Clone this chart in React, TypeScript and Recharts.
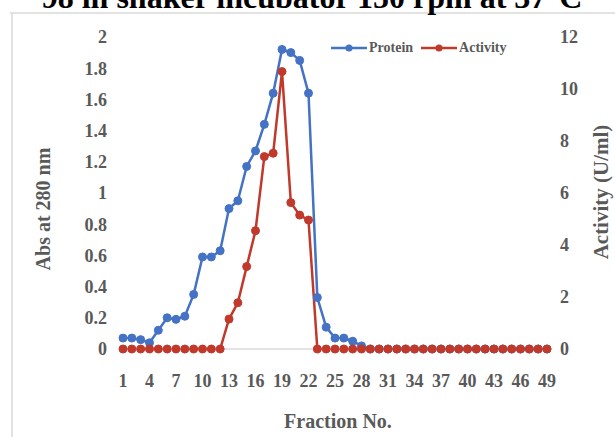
import { LineChart, Line, XAxis, YAxis } from "recharts";

const fractions = [
  1, 2, 3, 4, 5, 6, 7, 8, 9, 10, 11, 12, 13, 14, 15, 16, 17, 18, 19, 20, 21,
  22, 23, 24, 25, 26, 27, 28, 29, 30, 31, 32, 33, 34, 35, 36, 37, 38, 39, 40,
  41, 42, 43, 44, 45, 46, 47, 48, 49,
];

const protein = [
  0.07, 0.07, 0.06, 0.04, 0.12, 0.2, 0.19, 0.21, 0.35, 0.59, 0.59, 0.63, 0.9,
  0.95, 1.17, 1.27, 1.44, 1.64, 1.92, 1.9, 1.85, 1.64, 0.33, 0.14, 0.07, 0.07,
  0.05, 0.02, 0, 0, 0, 0, 0, 0, 0, 0, 0, 0, 0, 0, 0, 0, 0, 0, 0, 0, 0, 0, 0,
];

const activity = [
  0, 0, 0, 0, 0, 0, 0, 0, 0, 0, 0, 0, 1.15, 1.78, 3.17, 4.55, 7.4, 7.53, 10.67,
  5.63, 5.15, 4.96, 0, 0, 0, 0, 0, 0, 0, 0, 0, 0, 0, 0, 0, 0, 0, 0, 0, 0, 0, 0,
  0, 0, 0, 0, 0, 0, 0,
];

const absTicks = [0, 0.2, 0.4, 0.6, 0.8, 1, 1.2, 1.4, 1.6, 1.8, 2];
const activityTicks = [0, 2, 4, 6, 8, 10, 12];

const data = fractions.map((f, i) => ({
  fraction: f,
  protein: protein[i],
  activity: activity[i],
}));

const BLUE = "#4472C4";
const RED = "#C0392B";
const INK = "#595959";
const SERIF = "'Liberation Serif', 'Times New Roman', serif";

const legendItems = [
  { name: "Protein", color: BLUE },
  { name: "Activity", color: RED },
];

const tickStyle = { fontSize: 18, fontWeight: 700, fill: INK, fontFamily: SERIF };

function ChartLegend() {
  return (
    <div
      style={{
        position: "absolute",
        left: 331,
        top: 40,
        display: "flex",
        alignItems: "center",
        fontFamily: SERIF,
      }}
    >
      {legendItems.map((it) => (
        <div
          key={it.name}
          style={{ display: "flex", alignItems: "center", marginRight: 8 }}
        >
          <svg width={36} height={10}>
            <line x1={0} y1={5} x2={36} y2={5} stroke={it.color} strokeWidth={2.5} />
            <circle cx={18} cy={5} r={3.5} fill={it.color} />
          </svg>
          <span
            style={{
              fontSize: 14,
              fontWeight: 700,
              color: INK,
              marginLeft: 2,
              lineHeight: "16px",
            }}
          >
            {it.name}
          </span>
        </div>
      ))}
    </div>
  );
}

export default function App() {
  return (
    <div
      style={{
        position: "absolute",
        left: 0,
        top: 0,
        width: 615,
        height: 437,
        background: "#fff",
        overflow: "hidden",
      }}
    >
      <LineChart
        width={615}
        height={437}
        data={data}
        margin={{ top: 37, right: 0, bottom: 58, left: 0 }}
      >
        <XAxis
          dataKey="fraction"
          height={30}
          interval={2}
          tick={tickStyle}
          tickLine={false}
          tickSize={0}
          tickMargin={25}
          axisLine={{ stroke: "#d9d9d9", strokeWidth: 1.5 }}
        />
        <YAxis
          yAxisId="abs"
          width={123}
          domain={[0, 2]}
          ticks={absTicks}
          tick={tickStyle}
          tickLine={false}
          axisLine={false}
          tickSize={0}
          tickMargin={16}
        />
        <YAxis
          yAxisId="act"
          orientation="right"
          width={68}
          domain={[0, 12]}
          ticks={activityTicks}
          tick={{ ...tickStyle, textAnchor: "start" }}
          tickLine={false}
          axisLine={false}
          tickSize={0}
          tickMargin={13}
        />
        <Line
          yAxisId="abs"
          dataKey="protein"
          name="Protein"
          stroke={BLUE}
          strokeWidth={2.5}
          dot={{ r: 4, fill: BLUE, stroke: BLUE, strokeWidth: 1 }}
          isAnimationActive={false}
        />
        <Line
          yAxisId="act"
          dataKey="activity"
          name="Activity"
          stroke={RED}
          strokeWidth={2.5}
          dot={{ r: 4, fill: RED, stroke: RED, strokeWidth: 1 }}
          isAnimationActive={false}
        />
      </LineChart>
      <ChartLegend />
      <svg
        width={615}
        height={437}
        style={{ position: "absolute", left: 0, top: 0, pointerEvents: "none" }}
      >
        <line x1={10} y1={13} x2={615} y2={13} stroke="#d9d9d9" strokeWidth={1.5} />
        <line x1={12} y1={13} x2={12} y2={437} stroke="#d9d9d9" strokeWidth={1.5} />
        <text
          x={312}
          y={8}
          textAnchor="middle"
          fontFamily={SERIF}
          fontWeight={700}
          fontSize={32}
          fill="#000"
        >
          98 in shaker incubator 150 rpm at 37°C
        </text>
        <text
          transform="translate(50,209) rotate(-90)"
          textAnchor="middle"
          fontFamily={SERIF}
          fontWeight={700}
          fontSize={20}
          fill={INK}
        >
          Abs at 280 nm
        </text>
        <text
          transform="translate(608,192) rotate(-90)"
          textAnchor="middle"
          fontFamily={SERIF}
          fontWeight={700}
          fontSize={21}
          fill={INK}
        >
          Activity (U/ml)
        </text>
        <text
          x={338}
          y={428}
          textAnchor="middle"
          fontFamily={SERIF}
          fontWeight={700}
          fontSize={20}
          fill={INK}
        >
          Fraction No.
        </text>
      </svg>
    </div>
  );
}
